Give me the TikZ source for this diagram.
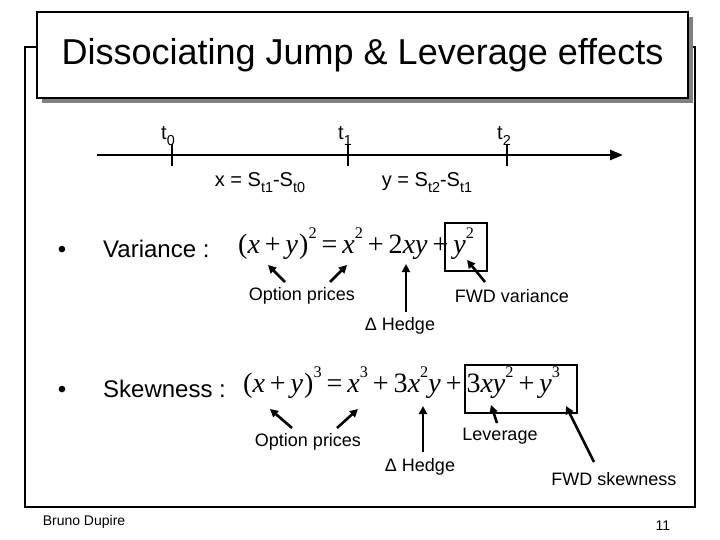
\documentclass[tikz,border=0pt]{standalone}
\usepackage{fontspec}
\setmainfont{Liberation Sans}
\newfontfamily\eqfont{Liberation Serif}
\usetikzlibrary{arrows.meta,shadows}
\newcommand{\sbs}[1]{\raisebox{-0.3em}{\scalebox{0.72}{#1}}}
\newcommand{\sps}[1]{\raisebox{0.52em}{\scalebox{0.58}{#1}}}
\newcommand{\vi}[1]{\textit{#1}}
\newcommand{\gp}{\kern5pt}
\begin{document}
\begin{tikzpicture}[x=1pt,y=-1pt,
  titlebox/.style={draw, line width=1.6pt, fill=white, minimum width=651pt, minimum height=86pt,
     inner sep=0pt, font=\fontsize{36}{40}\selectfont,
     drop shadow={shadow xshift=5pt, shadow yshift=-5pt, fill=black!50, opacity=1}},
  frame/.style={line width=1.6pt},
  axis/.style={line width=2.5pt, -{Triangle[length=13pt,width=10pt]}},
  tickmark/.style={line width=1.6pt},
  tlab/.style={font=\fontsize{20}{24}\selectfont, inner sep=0pt},
  big/.style={font=\fontsize{24}{28}\selectfont, inner sep=0pt},
  eq/.style={font=\eqfont\fontsize{28}{32}\selectfont, inner sep=0pt},
  lab/.style={font=\fontsize{18}{22}\selectfont, inner sep=0pt},
  foot/.style={font=\fontsize{14}{16}\selectfont, inner sep=0pt},
  hbox/.style={draw, line width=1.6pt, inner sep=0pt},
  ptr/.style={line width=2.6pt, -{Triangle[length=8pt,width=8pt]}}]
\useasboundingbox (0,0) rectangle (720,540);
% outer frame
\draw[frame] (45,47) -- (25,47) -- (25,507) -- (695,507) -- (695,47) -- (680,47);
% title
\node[titlebox] (title) at (362.5,55) {Dissociating Jump \& Leverage effects};
% timeline
\coordinate (axL) at (97,155);
\coordinate (axR) at (623,155);
\draw[axis] (axL) -- (axR);
\coordinate (k0) at (172,155);
\coordinate (k1) at (348,155);
\coordinate (k2) at (507,155);
\foreach \k in {k0,k1,k2}
  \draw[tickmark] ([yshift=11pt]\k) -- ([yshift=-11pt]\k);
\node[tlab, anchor=base west] (t0) at (161,140) {t\sbs{0}};
\node[tlab, anchor=base west] (t1) at (338,140) {t\sbs{1}};
\node[tlab, anchor=base west] (t2) at (497,140) {t\sbs{2}};
\node[tlab] (xd) at (260,183) {x = S\sbs{t1}-S\sbs{t0}};
\node[tlab] (yd) at (427,183) {y = S\sbs{t2}-S\sbs{t1}};
% variance
\node[big, anchor=base] (b1) at (62,258) {•};
\node[big, anchor=base west] (var) at (103,258) {Variance :};
\node[eq, anchor=base west] (eq1) at (238,253)
  {(\vi{x}\gp+\gp\vi{y}\kern1pt)\sps{2}\gp=\gp\vi{x}\sps{2}\gp+\gp2\vi{xy}\gp+\gp\vi{y}\sps{2}};
\node[hbox, minimum width=42pt, minimum height=48pt] (bx1) at (466,247) {};
\node[lab] (op1) at (302,296) {Option prices};
\node[lab] (fv) at (512,296) {FWD variance};
\node[lab] (dh1) at (400,326) {Δ Hedge};
\coordinate (a1t) at (285,282); \coordinate (a1h) at (268,265);
\coordinate (a2t) at (330,282); \coordinate (a2h) at (347,265);
\coordinate (a3t) at (406,312); \coordinate (a3h) at (406,264);
\coordinate (a4t) at (485,282); \coordinate (a4h) at (467,260);
\draw[ptr] (a1t) -- (a1h);
\draw[ptr] (a2t) -- (a2h);
\draw[ptr] (a3t) -- (a3h);
\draw[ptr] (a4t) -- (a4h);
% skewness
\node[big, anchor=base] (b2) at (62,397) {•};
\node[big, anchor=base west] (skw) at (103,397) {Skewness :};
\node[eq, anchor=base west] (eq2) at (243,392)
  {(\vi{x}\gp+\gp\vi{y}\kern1pt)\sps{3}\gp=\gp\vi{x}\sps{3}\gp+\gp3\vi{x}\sps{2}\vi{y}\gp+\gp3\vi{xy}\sps{2}\gp+\gp\vi{y}\sps{3}};
\node[hbox, minimum width=112pt, minimum height=48pt] (bx2) at (521,389) {};
\node[lab] (op2) at (308,442) {Option prices};
\node[lab] (dh2) at (420,467) {Δ Hedge};
\node[lab] (lev) at (500,436) {Leverage};
\node[lab] (fs) at (614,479) {FWD skewness};
\coordinate (c1t) at (292,428); \coordinate (c1h) at (270,409);
\coordinate (c2t) at (337,428); \coordinate (c2h) at (358,409);
\coordinate (c3t) at (423,452); \coordinate (c3h) at (423,406);
\coordinate (c4t) at (497,423); \coordinate (c4h) at (491,405);
\coordinate (c5t) at (594,462); \coordinate (c5h) at (566,406);
\draw[ptr] (c1t) -- (c1h);
\draw[ptr] (c2t) -- (c2h);
\draw[ptr] (c3t) -- (c3h);
\draw[ptr] (c4t) -- (c4h);
\draw[ptr] (c5t) -- (c5h);
% footer
\node[foot] (auth) at (84,522) {Bruno Dupire};
\node[foot] (pg) at (663,526) {11};
\end{tikzpicture}
\end{document}
